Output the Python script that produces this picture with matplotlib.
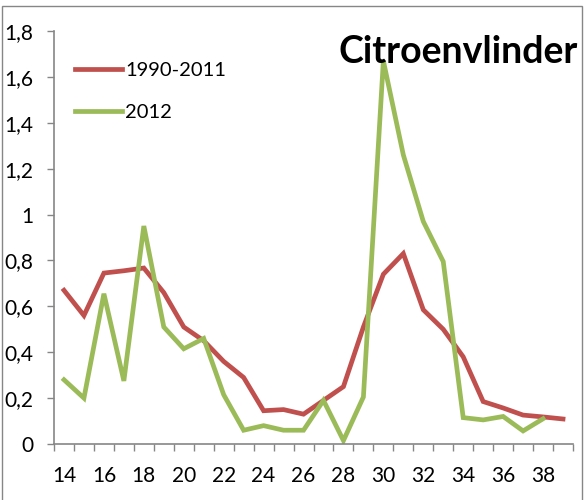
import matplotlib
matplotlib.use('Agg')
import matplotlib.pyplot as plt
from matplotlib.patches import Rectangle

plt.rcParams['font.family'] = ['Lato', 'DejaVu Sans']

# weeks 14..39
weeks = list(range(14, 40))
avg_1990_2011 = [0.67, 0.56, 0.745, 0.755, 0.767, 0.66, 0.51, 0.45, 0.36, 0.29,
                 0.145, 0.15, 0.13, 0.19, 0.25, 0.51, 0.74, 0.83, 0.585, 0.50,
                 0.38, 0.185, 0.157, 0.126, 0.118, 0.109]
weeks_2012 = list(range(14, 39))
vals_2012 = [0.28, 0.20, 0.655, 0.275, 0.95, 0.51, 0.415, 0.46, 0.215, 0.06,
             0.08, 0.06, 0.06, 0.19, 0.015, 0.205, 1.67, 1.26, 0.97, 0.795,
             0.115, 0.105, 0.12, 0.057, 0.11]
yticks = [0, 0.2, 0.4, 0.6, 0.8, 1.0, 1.2, 1.4, 1.6, 1.8]
ylabels = ['0', '0,2', '0,4', '0,6', '0,8', '1', '1,2', '1,4', '1,6', '1,8']
xlabels = [str(w) for w in range(14, 40, 2)]

red = '#C0504D'
green = '#9BBB59'
axis_grey = '#868686'

fig = plt.figure(figsize=(5.88, 5.0), dpi=100)
ax = fig.add_axes([54 / 588, 56 / 500, 519 / 588, 413 / 500])

ax.plot(weeks, avg_1990_2011, color=red, lw=3.4, label='1990-2011',
        solid_joinstyle='miter')
ax.plot(weeks_2012, vals_2012, color=green, lw=3.4, label='2012',
        solid_joinstyle='miter')

ax.set_xlim(13.5, 39.5)
ax.set_ylim(0, 1.8)
ax.set_yticks(yticks)
ax.set_yticklabels(ylabels)
ax.set_xticks(range(14, 40, 2))
ax.set_xticklabels(xlabels)
ax.set_xticks([w - 0.5 for w in range(14, 41)], minor=True)

for s in ['top', 'right']:
    ax.spines[s].set_visible(False)
for s in ['left', 'bottom']:
    ax.spines[s].set_color(axis_grey)
    ax.spines[s].set_linewidth(1.2)

ax.tick_params(axis='y', direction='out', length=5, width=1, color=axis_grey,
               pad=10, labelsize=15)
ax.tick_params(axis='x', which='major', length=0, pad=16, labelsize=15)
ax.tick_params(axis='x', which='minor', direction='out', length=5, width=1,
               color=axis_grey)

leg = ax.legend(loc='upper left', bbox_to_anchor=(75 / 588, 1 - 62 / 500),
                bbox_transform=fig.transFigure, frameon=False, fontsize=14.5,
                handlelength=2.35, handletextpad=0.15, labelspacing=1.25,
                borderaxespad=0, borderpad=0)

fig.text(578 / 588, 1 - 63 / 500, 'Citroenvlinder', ha='right', va='baseline',
         fontsize=27, fontweight='bold')

# chart border
fig.patches.append(Rectangle((2 / 588, -0.01), 580 / 588, 1 - 6 / 500 + 0.01,
                             transform=fig.transFigure, fill=False,
                             edgecolor=axis_grey, lw=1.0))

fig.savefig('out.png', dpi=100)
